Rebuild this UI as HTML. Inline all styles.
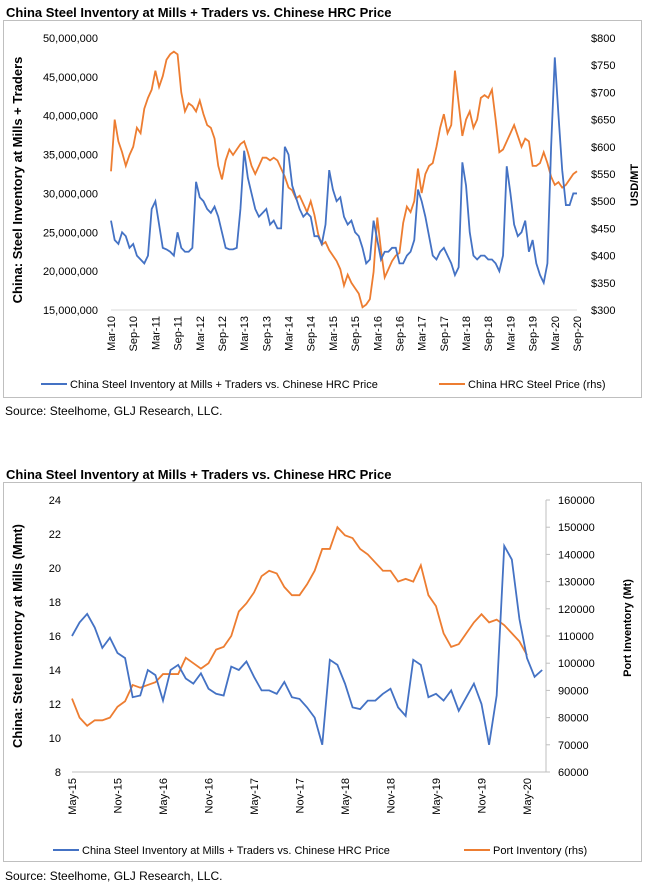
<!DOCTYPE html>
<html><head><meta charset="utf-8"><style>
body{margin:0;background:#fff;width:645px;height:885px;overflow:hidden;font-family:"Liberation Sans",sans-serif}
svg text{font-family:"Liberation Sans",sans-serif}
</style></head><body>
<svg id="s" width="645" height="885" xmlns="http://www.w3.org/2000/svg">
<text x="6" y="17" font-size="13" font-weight="bold" font-family="Liberation Sans Narrow, Liberation Sans, sans-serif">China Steel Inventory at Mills + Traders vs. Chinese HRC Price</text>
<rect x="3.5" y="20.5" width="638" height="377" fill="none" stroke="#bfbfbf"/>
<text x="5" y="415" font-size="12">Source: Steelhome, GLJ Research, LLC.</text>
<text x="6" y="479" font-size="13" font-weight="bold" font-family="Liberation Sans Narrow, Liberation Sans, sans-serif">China Steel Inventory at Mills + Traders vs. Chinese HRC Price</text>
<rect x="3.5" y="482.5" width="638" height="379" fill="none" stroke="#bfbfbf"/>
<text x="5" y="880" font-size="12">Source: Steelhome, GLJ Research, LLC.</text>
<g id="g1"></g><g id="g2"></g>
</svg>
<script>
// ---- Top chart data (monthly, Mar-10 .. Sep-20) ----
const topMonths = ["Mar-10","Sep-10","Mar-11","Sep-11","Mar-12","Sep-12","Mar-13","Sep-13","Mar-14","Sep-14","Mar-15","Sep-15","Mar-16","Sep-16","Mar-17","Sep-17","Mar-18","Sep-18","Mar-19","Sep-19","Mar-20","Sep-20"];
const topInventoryM = [
26.5,24,23.5,25,24.5,23,23.5,22,21.5,21,
22,28,29,26,23,22.8,22.5,22,25,23,22.5,22.5,
23,31.5,29.5,29,28,27.5,28.3,27,25,23,22.8,22.8,
23,28,35.5,32,30,28,27,27.5,28,26,26.5,25.5,
25.5,36,35,31,29.5,28,27,27.5,27,24.5,24.5,23.5,
26,33,30.5,29,29.5,27,26,26.5,25,24.5,23,21,
21.5,26.5,24,21.5,22.5,22.5,23,23,21,21,22,22.5,
24,30.5,29,27,24.5,22,21.5,22.5,23,22,21,19.5,
20.5,34,31,25,22,21.5,22,22,21.5,21.5,21,20,
22,33.5,30,26,24.5,25,26.5,22.5,24,21,19.5,18.5,
21,36,47.5,40,33,28.5,28.5,30,30];
const topPrice = [
555,650,610,590,565,585,600,635,625,670,
690,705,740,710,730,760,770,775,770,700,665,680,
675,665,685,660,640,635,615,565,540,575,595,585,
595,605,610,590,565,550,565,580,580,575,580,575,
560,545,525,520,505,510,495,480,500,475,440,420,
425,410,400,390,375,345,365,350,340,330,305,310,
320,370,470,410,360,375,390,400,405,460,490,480,
500,560,515,550,565,570,600,635,660,625,640,740,
680,620,650,665,635,650,690,695,690,705,650,590,
595,610,625,640,620,600,615,610,565,565,570,590,
570,545,530,535,525,530,540,550,555];
const topLeftTicks = [15,20,25,30,35,40,45,50];
const topRightTicks = [300,350,400,450,500,550,600,650,700,750,800];

// ---- Bottom chart data (monthly, May-15 .. Jul-20) ----
const botMonths = ["May-15","Nov-15","May-16","Nov-16","May-17","Nov-17","May-18","Nov-18","May-19","Nov-19","May-20"];
const botInventory = [16.0,16.8,17.3,16.5,15.3,15.9,15.0,14.7,12.4,12.5,14.0,13.7,12.2,14.0,14.3,13.5,13.2,13.8,12.9,12.6,12.5,14.2,14.0,14.5,13.6,12.8,12.8,12.6,13.3,12.4,12.3,11.8,11.2,9.6,14.6,14.3,13.2,11.8,11.7,12.2,12.2,12.6,12.9,11.8,11.3,14.6,14.3,12.4,12.6,12.2,12.8,11.6,12.4,13.2,12.0,9.6,12.5,21.3,20.5,17.0,14.7,13.6,14.0];
const botPort = [87,80,77,79,79,80,84,86,92,91,92,93,96,96,96,102,100,98,100,105,106,110,119,122,126,132,134,133,128,125,125,129,134,142,142,150,147,146,142,140,137,134,134,130,131,130,136,125,121,111,106,107,111,115,118,115,116,114,111,108,103];
const botLeftTicks = [8,10,12,14,16,18,20,22,24];
const botRightTicks = [60000,70000,80000,90000,100000,110000,120000,130000,140000,150000,160000];

const NS="http://www.w3.org/2000/svg";
function mk(parent,tag,attrs,text){const e=document.createElementNS(NS,tag);for(const k in attrs)e.setAttribute(k,attrs[k]);if(text!==undefined)e.textContent=text;parent.appendChild(e);return e;}
const BLUE="#4472c4", ORANGE="#ed7d31";

// ---------- Top chart ----------
(function(){
const g=document.getElementById('g1');
const x0=111,x1=577,yT=38,yB=310;
const xs=i=>x0+(x1-x0)*i/126;
const yl=v=>yB-(v-15)/(50-15)*(yB-yT);
const yr=v=>yB-(v-300)/(800-300)*(yB-yT);
let ax=mk(g,'line',{x1:x0,x2:x1,y1:yB,y2:yB,stroke:'#d9d9d9'});

topLeftTicks.forEach(v=>{const t=mk(g,'text',{x:98,y:yl(v)+4,'font-size':11,'text-anchor':'end'},(v*1e6).toLocaleString('en-US'));
});
topRightTicks.forEach(v=>{const t=mk(g,'text',{x:591,y:yr(v)+4,'font-size':11},'$'+v);
});
topMonths.forEach((m,k)=>{const x=xs(k*6);const t=mk(g,'text',{transform:`translate(${x+4},${yB+6}) rotate(-90)`,'font-size':11,'text-anchor':'end'},m);
});
let p=mk(g,'polyline',{points:topPrice.map((v,i)=>xs(i)+','+yr(v)).join(' '),fill:'none',stroke:ORANGE,'stroke-width':1.8});

let b=mk(g,'polyline',{points:topInventoryM.map((v,i)=>xs(i)+','+yl(v)).join(' '),fill:'none',stroke:BLUE,'stroke-width':1.8});

let t1=mk(g,'text',{transform:'translate(22,180) rotate(-90)','font-size':13,'font-weight':'bold','text-anchor':'middle'},'China: Steel Inventory at Mills + Traders');

let t2=mk(g,'text',{transform:'translate(638,185) rotate(-90)','font-size':11,'font-weight':'bold','text-anchor':'middle'},'USD/MT');

let l1=mk(g,'line',{x1:41,x2:67,y1:384,y2:384,stroke:BLUE,'stroke-width':2});

let lt1=mk(g,'text',{x:70,y:388,'font-size':11},'China Steel Inventory at Mills + Traders vs. Chinese HRC Price');

let l2=mk(g,'line',{x1:439,x2:465,y1:384,y2:384,stroke:ORANGE,'stroke-width':2});

let lt2=mk(g,'text',{x:468,y:388,'font-size':11},'China HRC Steel Price (rhs)');

})();

// ---------- Bottom chart ----------
(function(){
const g=document.getElementById('g2');
const x0=72,x1=527,xe=546,yT=500,yB=772;
const xs=i=>x0+(x1-x0)*i/60;
const yl=v=>yB-(v-8)/(24-8)*(yB-yT);
const yr=v=>yB-(v-60000)/(160000-60000)*(yB-yT);
let ax=mk(g,'line',{x1:x0,x2:xe,y1:yB,y2:yB,stroke:'#bfbfbf'});

let ay=mk(g,'line',{x1:xe,x2:xe,y1:yT,y2:yB,stroke:'#bfbfbf'});

botLeftTicks.forEach(v=>{const t=mk(g,'text',{x:61,y:yl(v)+4,'font-size':11,'text-anchor':'end'},String(v));
});
botRightTicks.forEach(v=>{mk(g,'line',{x1:xe,x2:xe+4,y1:yr(v),y2:yr(v),stroke:'#bfbfbf'});
const t=mk(g,'text',{x:558,y:yr(v)+4,'font-size':11},String(v));
});
botMonths.forEach((m,k)=>{const x=xs(k*6);const t=mk(g,'text',{transform:`translate(${x+4},${yB+6}) rotate(-90)`,'font-size':11,'text-anchor':'end'},m);
});
let p=mk(g,'polyline',{points:botPort.map((v,i)=>xs(i)+','+yr(v*1000)).join(' '),fill:'none',stroke:ORANGE,'stroke-width':1.8});

let b=mk(g,'polyline',{points:botInventory.map((v,i)=>xs(i)+','+yl(v)).join(' '),fill:'none',stroke:BLUE,'stroke-width':1.8});

let t1=mk(g,'text',{transform:'translate(22,636) rotate(-90)','font-size':13,'font-weight':'bold','text-anchor':'middle'},'China: Steel Inventory at Mills (Mmt)');

let t2=mk(g,'text',{transform:'translate(631,628) rotate(-90)','font-size':11,'font-weight':'bold','text-anchor':'middle'},'Port Inventory (Mt)');

let l1=mk(g,'line',{x1:53,x2:79,y1:850,y2:850,stroke:BLUE,'stroke-width':2});

let lt1=mk(g,'text',{x:82,y:854,'font-size':11},'China Steel Inventory at Mills + Traders vs. Chinese HRC Price');

let l2=mk(g,'line',{x1:464,x2:490,y1:850,y2:850,stroke:ORANGE,'stroke-width':2});

let lt2=mk(g,'text',{x:493,y:854,'font-size':11},'Port Inventory (rhs)');

})();
</script>
</body></html>
